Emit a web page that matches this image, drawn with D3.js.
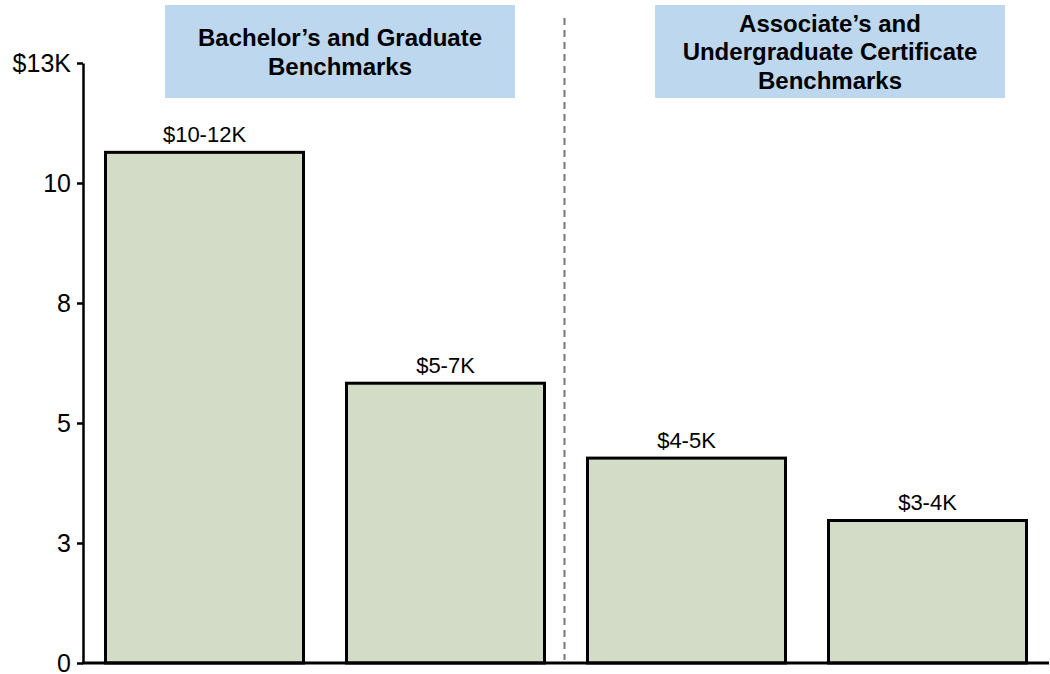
<!DOCTYPE html>
<html>
<head>
<meta charset="utf-8">
<script src="https://cdn.jsdelivr.net/npm/d3@7"></script>
<style>
  html, body { margin: 0; padding: 0; background: #fff; }
  svg { display: block; font-family: "Liberation Sans", Arial, sans-serif; }
</style>
</head>
<body>
<svg id="chart" width="1050" height="674"></svg>
<script>
// Benchmark cost ranges by credential type (thousands of dollars)
const categories = ["Bachelor's", "Graduate", "Associate's", "Undergraduate Certificate"];
const values = [10.67, 5.86, 4.3, 3.0];
const valueLabels = ["$10-12K", "$5-7K", "$4-5K", "$3-4K"];
const tickValues = [0, 2.5, 5, 7.5, 10, 12.5];
const tickLabels = ["0", "3", "5", "8", "10", "$13K"];
const groupTitles = [
  ["Bachelor\u2019s and Graduate", "Benchmarks"],
  ["Associate\u2019s and", "Undergraduate Certificate", "Benchmarks"]
];

const svg = d3.select("#chart");
const axisX = 83, baseY = 663, topY = 63;

const x = d3.scaleBand()
  .domain(categories)
  .range([84, 1048])
  .paddingInner(0.166)
  .paddingOuter(0.083);

const y = d3.scaleLinear().domain([0, 12.5]).range([baseY, topY]);

// Group header boxes
const boxes = [
  { x0: 165, x1: 515, lines: groupTitles[0] },
  { x0: 655, x1: 1005, lines: groupTitles[1] }
];
boxes.forEach(b => {
  svg.append("rect")
    .attr("x", b.x0).attr("y", 5)
    .attr("width", b.x1 - b.x0).attr("height", 93)
    .attr("fill", "#bdd7ee");
  const cy = 52, lh = 28.5;
  const start = cy - (b.lines.length - 1) * lh / 2;
  b.lines.forEach((ln, i) => {
    svg.append("text")
      .attr("x", (b.x0 + b.x1) / 2)
      .attr("y", start + i * lh)
      .attr("dy", "0.35em")
      .attr("text-anchor", "middle")
      .attr("font-weight", "bold")
      .attr("font-size", 24)
      .attr("fill", "#000")
      .text(ln);
  });
});

// Dashed divider between the two groups
svg.append("line")
  .attr("x1", 564.5).attr("x2", 564.5)
  .attr("y1", 18).attr("y2", 660)
  .attr("stroke", "#777").attr("stroke-width", 2)
  .attr("stroke-dasharray", "7,5");

// Bars
svg.selectAll("rect.bar")
  .data(categories)
  .join("rect")
  .attr("class", "bar")
  .attr("x", d => x(d) + 1.5)
  .attr("width", x.bandwidth() - 3)
  .attr("y", (d, i) => y(values[i]) + 1.5)
  .attr("height", (d, i) => baseY - y(values[i]) - 1.5)
  .attr("fill", "#d3dcc7")
  .attr("stroke", "#000")
  .attr("stroke-width", 3);

// Value labels
svg.selectAll("text.val")
  .data(categories)
  .join("text")
  .attr("class", "val")
  .attr("x", d => x(d) + x.bandwidth() / 2)
  .attr("y", (d, i) => y(values[i]) - 9)
  .attr("text-anchor", "middle")
  .attr("font-size", 22)
  .attr("fill", "#000")
  .text((d, i) => valueLabels[i]);

// Y axis
const yAxis = d3.axisLeft(y)
  .tickValues(tickValues)
  .tickFormat((d, i) => tickLabels[i])
  .tickSize(6)
  .tickSizeOuter(0)
  .tickPadding(6);

const gy = svg.append("g")
  .attr("transform", `translate(${axisX},0)`)
  .call(yAxis);
gy.select(".domain").attr("stroke", "#000").attr("stroke-width", 2.5);
gy.selectAll(".tick line").attr("stroke", "#000").attr("stroke-width", 2.5);
gy.selectAll(".tick text")
  .attr("font-size", 25)
  .attr("font-family", "Liberation Sans, Arial, sans-serif")
  .attr("fill", "#000");

// X baseline
svg.append("line")
  .attr("x1", axisX - 1).attr("x2", 1049)
  .attr("y1", baseY).attr("y2", baseY)
  .attr("stroke", "#000").attr("stroke-width", 3);
</script>
</body>
</html>
